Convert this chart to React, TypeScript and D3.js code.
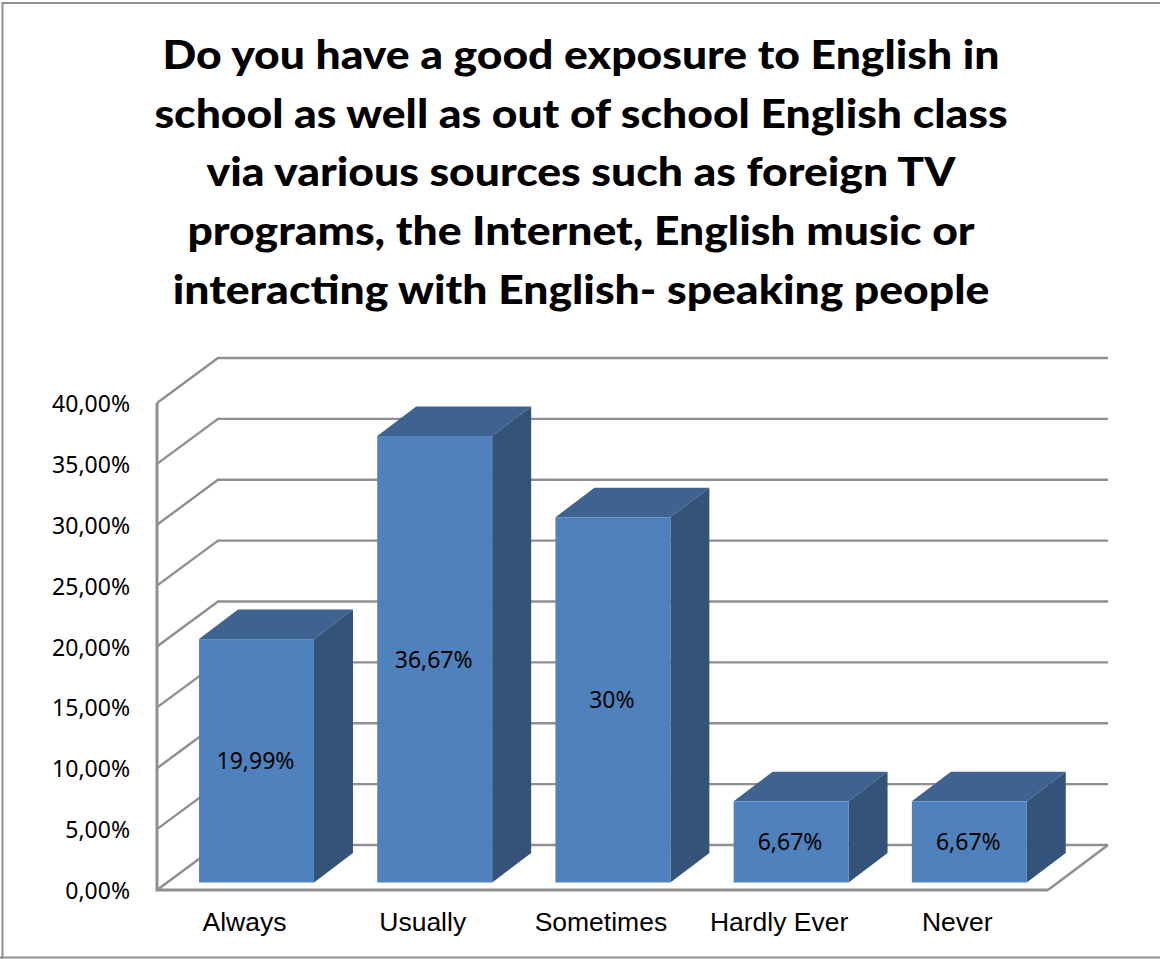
import React from "react";
import * as d3 from "d3";

const titleLines = [
  "Do you have a good exposure to English in",
  "school as well as out of school English class",
  "via various sources such as foreign TV",
  "programs, the Internet, English music or",
  "interacting with English- speaking people",
];
const categories = ["Always", "Usually", "Sometimes", "Hardly Ever", "Never"];
const shares = [19.99, 36.67, 30, 6.67, 6.67];
const shareLabels = ["19,99%", "36,67%", "30%", "6,67%", "6,67%"];
const ticks = [0, 5, 10, 15, 20, 25, 30, 35, 40];

const GRID = "#8f8f8f";
const FRONT = "#4f81bd";
const TOP = "#3e6390";
const SIDE = "#335379";

// Chart box corners along the floor.
const floorLeft = 157;
const floorRight = 1048;
const backRight = 1108;

// Oblique offsets for the chart box and for each column's depth.
const wallDx = 61;
const wallDy = -45;
const barDx = 39;
const barDy = -29.5;
const barInset = -7.5;

export default function App() {
  // The columns sit slightly right of the floor's front edge, so the band range is shifted.
  const x = d3.scaleBand<string>().domain(categories).range([floorLeft + 10.4, floorRight + 10.4]).paddingInner(0.355).paddingOuter(0.1775);
  const y = d3.scaleLinear().domain([0, 40]).range([890, 403]);
  const fmt = (t: number) => t.toFixed(2).replace(".", ",") + "%";
  const line = d3.line();

  return (
    <svg width={1160} height={959} style={{ position: "absolute", left: 0, top: 0, background: "#fff" }}>
      <path d="M2.5 959V3H1160M0 957.5H1160" fill="none" stroke={GRID} strokeWidth={2} />
      <g transform="translate(581,0) scale(1.112,1)">
        <text textAnchor="middle" fontFamily="Lato, 'Open Sans', sans-serif" fontWeight={900} fontSize={40} fill="#000">
          {titleLines.map((t, i) => (
            <tspan key={t} x={0} y={69 + i * 58.7}>{t}</tspan>
          ))}
        </text>
      </g>

      <g fill="none" stroke={GRID} strokeWidth={2.4}>
        {ticks.map((t) => (
          <path
            key={t}
            d={line([
              [floorLeft, y(t)],
              [floorLeft + wallDx, y(t) + wallDy],
              [backRight, y(t) + wallDy],
            ]) ?? ""}
          />
        ))}
        <path d={line([[backRight, y(0) + wallDy], [floorRight, y(0)]]) ?? ""} />
        <path d={line([[floorLeft, y(40)], [floorLeft, y(0)], [floorRight, y(0)]]) ?? ""} strokeWidth={3} />
      </g>

      <g fontFamily="'Noto Sans', sans-serif" fontSize={23} fill="#000" textAnchor="end">
        {ticks.map((t) => (
          <text key={t} x={130} y={y(t) + 9}>{fmt(t)}</text>
        ))}
      </g>

      {categories.map((c, i) => {
        const bx = x(c)!;
        const w = x.bandwidth();
        const base = y(0) + barInset;
        const top = base - (y(0) - y(shares[i]));
        return (
          <g key={c}>
            <path
              d={line([[bx, top], [bx + barDx, top + barDy], [bx + w + barDx, top + barDy], [bx + w, top]]) + "Z"}
              fill={TOP}
            />
            <path
              d={line([[bx + w, top], [bx + w + barDx, top + barDy], [bx + w + barDx, base + barDy], [bx + w, base]]) + "Z"}
              fill={SIDE}
            />
            <rect x={bx} y={top} width={w} height={base - top} fill={FRONT} />
            <text x={bx + w / 2 - 1} y={(top + base) / 2 + 8.5} textAnchor="middle" fontFamily="'Noto Sans', sans-serif" fontSize={23} fill="#000">
              {shareLabels[i]}
            </text>
            <text x={bx + w / 2 - 12} y={931} textAnchor="middle" fontFamily="'Liberation Sans', sans-serif" fontSize={26.5} fill="#000">
              {c}
            </text>
          </g>
        );
      })}
    </svg>
  );
}
